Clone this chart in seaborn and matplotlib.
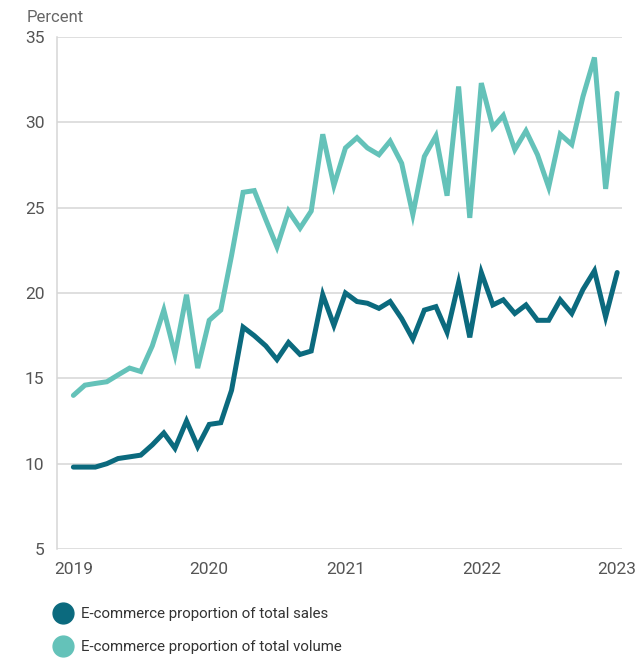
import matplotlib
matplotlib.use("Agg")
import matplotlib.pyplot as plt
import seaborn as sns
import pandas as pd
from matplotlib.lines import Line2D

# Monthly e-commerce share, Jan 2019 - Jan 2023
months = pd.date_range("2019-01-01", "2023-01-01", freq="MS")

sales_share = [
    9.8, 9.8, 9.8, 10.0, 10.3, 10.4, 10.5, 11.1, 11.8, 10.9, 12.5, 11.0,
    12.3, 12.4, 14.3, 18.0, 17.5, 16.9, 16.1, 17.1, 16.4, 16.6, 19.9, 18.1,
    20.0, 19.5, 19.4, 19.1, 19.5, 18.5, 17.3, 19.0, 19.2, 17.7, 20.6, 17.4,
    21.2, 19.3, 19.6, 18.8, 19.3, 18.4, 18.4, 19.6, 18.8, 20.2, 21.3, 18.6,
    21.2,
]
volume_share = [
    14.0, 14.6, 14.7, 14.8, 15.2, 15.6, 15.4, 16.9, 19.0, 16.4, 19.9, 15.6,
    18.4, 19.0, 22.2, 25.9, 26.0, 24.3, 22.7, 24.8, 23.8, 24.8, 29.3, 26.3,
    28.5, 29.1, 28.5, 28.1, 28.9, 27.6, 24.6, 28.0, 29.2, 25.7, 32.1, 24.4,
    32.3, 29.7, 30.4, 28.4, 29.5, 28.1, 26.2, 29.3, 28.7, 31.5, 33.8, 26.1,
    31.7,
]

series_names = [
    "E-commerce proportion of total sales",
    "E-commerce proportion of total volume",
]
colors = ["#0b6a7e", "#64c2b9"]
year_ticks = ["2019", "2020", "2021", "2022", "2023"]
y_ticks = [5, 10, 15, 20, 25, 30, 35]

df = pd.concat([
    pd.DataFrame({"month": months, "share": sales_share, "series": series_names[0]}),
    pd.DataFrame({"month": months, "share": volume_share, "series": series_names[1]}),
])

sns.set_theme(style="white")
plt.rcParams["font.family"] = ["Roboto", "DejaVu Sans"]

fig = plt.figure(figsize=(6.36, 6.6), dpi=100)
ax = fig.add_axes([57 / 636, 1 - 549 / 660, (622 - 57) / 636, (549 - 37) / 660])

sns.lineplot(
    data=df, x="month", y="share", hue="series", palette=colors,
    hue_order=series_names, linewidth=3.6, ax=ax, legend=False,
    solid_joinstyle="miter", solid_capstyle="round",
)

ax.set_ylim(5, 35)
ax.set_yticks(y_ticks)
ax.set_xlim(pd.Timestamp("2018-11-18"), pd.Timestamp("2023-01-14"))
ax.set_xticks([pd.Timestamp(f"{y}-01-01") for y in year_ticks])
ax.set_xticklabels(year_ticks)

ax.grid(axis="y", color="#d6d6d6", linewidth=1.1)
ax.set_axisbelow(True)
for side in ["top", "right", "bottom"]:
    ax.spines[side].set_visible(False)
ax.spines["left"].set_color("#d6d6d6")
ax.spines["left"].set_linewidth(1.1)

ax.tick_params(axis="both", length=0, labelsize=12.5, labelcolor="#555555")
ax.tick_params(axis="y", pad=9)
ax.tick_params(axis="x", pad=9)
ax.set_xlabel("")
ax.set_ylabel("")

fig.text(27 / 636, 1 - 17 / 660, "Percent", fontsize=12, color="#666666",
         va="center", ha="left")

handles = [
    Line2D([0], [0], marker="o", linestyle="none", markersize=15,
           markerfacecolor=c, markeredgecolor=c)
    for c in colors
]
fig.legend(handles, series_names, loc="upper left",
           bbox_to_anchor=(48 / 636, 1 - 601 / 660), frameon=False,
           fontsize=10.8, labelcolor="#333333", handletextpad=0.6,
           labelspacing=1.25, borderaxespad=0, handlelength=1.2)

fig.savefig("out.png", dpi=100)
